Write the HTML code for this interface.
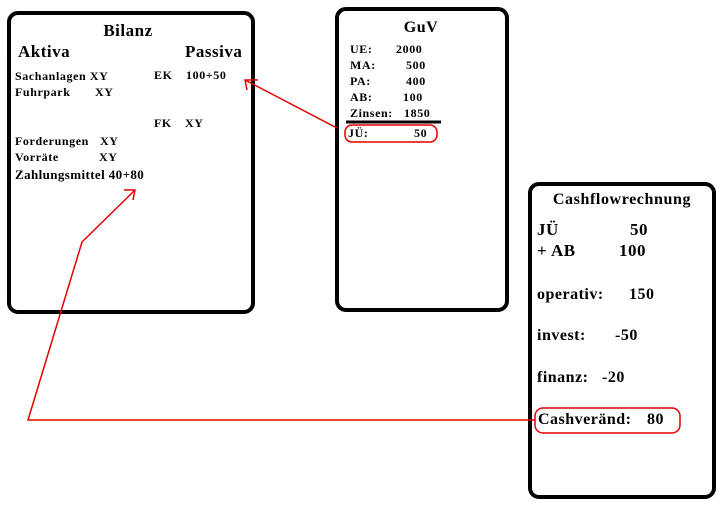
<!DOCTYPE html>
<html><head><meta charset="utf-8"><style>
body{margin:0;background:#fff;width:723px;height:507px;overflow:hidden}
svg{display:block}
text{font-family:"Liberation Serif",serif;font-weight:bold;fill:#000}
</style></head><body>
<svg width="723" height="507" viewBox="0 0 723 507">
<g fill="none" stroke="#000" stroke-width="4">
<rect x="9" y="13" width="244" height="299" rx="9"/>
<rect x="337" y="9" width="170" height="301" rx="9"/>
<rect x="530" y="184" width="184" height="313" rx="9"/>
</g>
<text x="128" y="36" font-size="17" text-anchor="middle" letter-spacing="0.5">Bilanz</text>
<text x="18" y="57" font-size="17" letter-spacing="0.5">Aktiva</text>
<text x="185" y="57" font-size="17" letter-spacing="0.5">Passiva</text>
<g font-size="12" letter-spacing="0.6">
<text x="15" y="80">Sachanlagen  XY</text>
<text x="15" y="96">Fuhrpark</text><text x="95" y="96">XY</text>
<text x="154" y="79">EK</text><text x="186" y="79">100+50</text>
<text x="154" y="127">FK</text><text x="185" y="127">XY</text>
<text x="15" y="145">Forderungen</text><text x="100" y="145">XY</text>
<text x="15" y="161">Vorräte</text><text x="99" y="161">XY</text>
<text x="15" y="179" font-size="13" letter-spacing="0.4">Zahlungsmittel 40+80</text>
</g>
<text x="421" y="32" font-size="16" text-anchor="middle" letter-spacing="0.5">GuV</text>
<g font-size="12" letter-spacing="0.6">
<text x="350" y="53">UE:</text><text x="396" y="53">2000</text>
<text x="350" y="69">MA:</text><text x="406" y="69">500</text>
<text x="350" y="85">PA:</text><text x="406" y="85">400</text>
<text x="350" y="101">AB:</text><text x="403" y="101">100</text>
<text x="350" y="117">Zinsen:</text><text x="404" y="117">1850</text>
<text x="348" y="137">JÜ:</text><text x="414" y="137">50</text>
</g>
<line x1="346" y1="122" x2="441" y2="122" stroke="#000" stroke-width="3"/>
<text x="622" y="204" font-size="16" text-anchor="middle" letter-spacing="0.6">Cashflowrechnung</text>
<g font-size="17" letter-spacing="0.5">
<text x="537" y="235">JÜ</text><text x="630" y="235">50</text>
<text x="537" y="256">+ AB</text><text x="619" y="256">100</text>
</g>
<g font-size="16" letter-spacing="0.5">
<text x="537" y="299">operativ:</text><text x="629" y="299">150</text>
<text x="537" y="340">invest:</text><text x="615" y="340">-50</text>
<text x="537" y="382">finanz:</text><text x="602" y="382">-20</text>
<text x="538" y="424">Cashveränd:</text><text x="647" y="424">80</text>
</g>
<g fill="none" stroke="#e00000" stroke-width="1.5">
<rect x="345" y="125" width="92" height="17" rx="7"/>
<rect x="535" y="408" width="145" height="25" rx="8"/>
<polyline points="337,128 245,80"/>
<polyline points="258,80 245,80 247,90"/>
<polyline points="535,420 28,420 82,242 135,190"/>
<polyline points="124,190 135,190 133,200"/>
</g>
</svg>
</body></html>
